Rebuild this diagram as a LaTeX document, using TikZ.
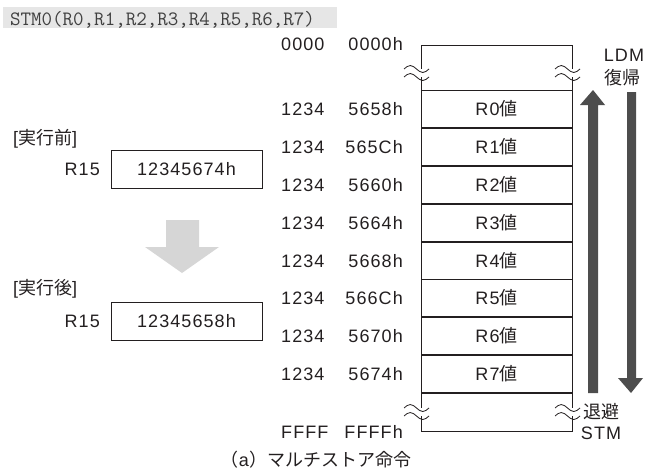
\documentclass[tikz,border=0pt]{standalone}
\usepackage{fontspec}
\setmainfont{Liberation Sans}[LetterSpace=6]
\newfontfamily\jpf{Noto Sans CJK JP}
\definecolor{ink}{HTML}{231F20}
\definecolor{darkarrow}{HTML}{4D4D4D}
\definecolor{lightarrow}{HTML}{D6D6D6}
\definecolor{band}{HTML}{E6E6E6}
\definecolor{monoink}{HTML}{404040}
\begin{document}
\begin{tikzpicture}[x=1pt,y=-1pt,
  txt/.style={font=\fontsize{18}{20}\selectfont, text=ink, inner sep=0pt},
  outline/.style={draw=ink, line width=1pt},
  rowline/.style={draw=ink, line width=1.7pt},
  wave/.style={draw=ink, line width=0.8pt},
  regbox/.style={draw=ink, line width=1pt, minimum width=151pt, minimum height=38pt, inner sep=0pt, font=\fontsize{18}{20}\selectfont, text=ink}]
\useasboundingbox (0,0) rectangle (647,474);

% command band
\fill[band] (3,7) rectangle (337,28);
\node[anchor=base west, inner sep=0pt, text=monoink, font=\ttfamily\fontsize{20.4}{22}\selectfont] (cmd) at (10,25) {STM0(R0,R1,R2,R3,R4,R5,R6,R7)};

% memory box
\draw[outline] (421,45) rectangle (572,431);
\foreach \i in {0,...,8} {
  \pgfmathsetmacro\yl{90.5+37.8*\i}
  \draw[rowline] (421,\yl) -- (572,\yl);
}
% breaks with squiggles
\foreach \x/\yc in {421/73, 572/73, 421/412, 572/412} {
  \fill[white] (\x-2,\yc-4) rectangle (\x+2,\yc+4);
  \foreach \yw in {\yc-4,\yc+4} {
    \draw[wave] (\x-17,\yw) sin (\x-10.75,\yw-3.5) cos (\x-4.5,\yw) sin (\x+1.75,\yw+3.5) cos (\x+8,\yw);
  }
}

% address labels and values
\node[txt, anchor=base west] (hitop) at (281,50.5) {0000};
\node[txt, anchor=base east] (lotop) at (403,50.5) {0000h};
\node[txt, anchor=base west] (hibot) at (281,438) {FFFF};
\node[txt, anchor=base east] (lobot) at (403,438) {FFFFh};
\foreach \i/\lo/\v in {0/5658h/R0, 1/565Ch/R1, 2/5660h/R2, 3/5664h/R3, 4/5668h/R4, 5/566Ch/R5, 6/5670h/R6, 7/5674h/R7} {
  \pgfmathsetmacro\yb{109.4+37.8*\i+6.5}
  \node[txt, anchor=base west] (hi\i) at (281,\yb) {1234};
  \node[txt, anchor=base east] (lo\i) at (403,\yb) {\lo};
  \node[txt, anchor=base] (v\i) at (496.5,\yb) {\v{\jpf 値}};
}

% direction arrows
\fill[darkarrow] (588,393) -- (598,393) -- (598,105) -- (605,105) -- (593,90) -- (580,105) -- (588,105) -- cycle;
\fill[darkarrow] (627,92) -- (636,92) -- (636,378) -- (643,378) -- (631,393) -- (618,378) -- (627,378) -- cycle;
\node[txt, anchor=base] (ldm) at (624,61.5) {LDM};
\node[txt, anchor=base] (fukki) at (622,84.5) {\jpf 復帰};
\node[txt, anchor=base] (taihi) at (601,418.5) {\jpf 退避};
\node[txt, anchor=base] (stm) at (601,439.5) {STM};

% left side
\node[txt, anchor=base west] (pre) at (13,144.5) {[{\jpf 実行前}]};
\node[txt, anchor=base east] (r15a) at (100,175.5) {R15};
\node[regbox] (before) at (186.5,169) {12345674h};
\fill[lightarrow] (166,220) -- (199,220) -- (199,247) -- (219,247) -- (182,273) -- (145,247) -- (166,247) -- cycle;
\node[txt, anchor=base west] (post) at (13,294.5) {[{\jpf 実行後}]};
\node[txt, anchor=base east] (r15b) at (100,327.5) {R15};
\node[regbox] (after) at (186.5,321) {12345658h};

% caption
\node[txt, anchor=base] (title) at (316,466) {{\jpf （}a{\jpf ）マルチストア命令}};
\end{tikzpicture}
\end{document}
